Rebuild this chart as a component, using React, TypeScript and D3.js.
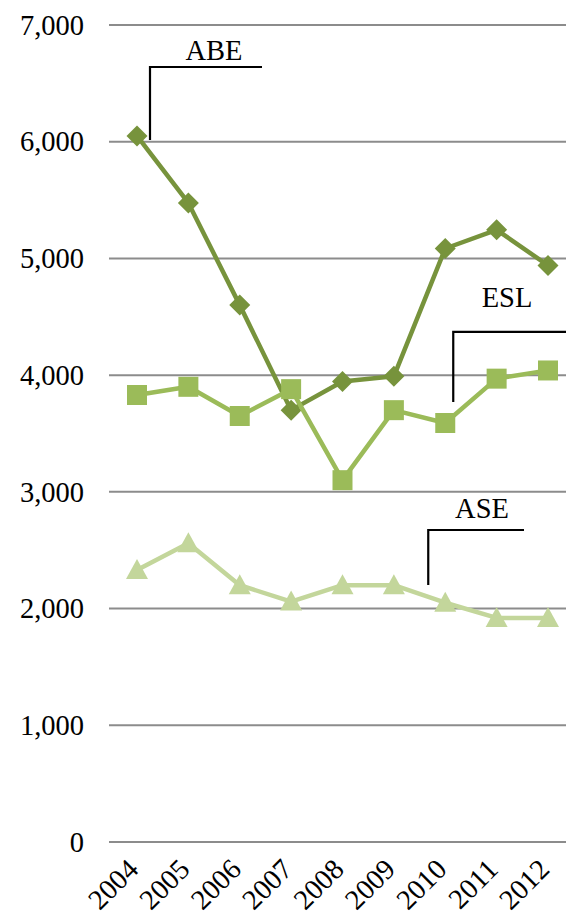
import React from "react";
import * as d3 from "d3";

const years = ["2004", "2005", "2006", "2007", "2008", "2009", "2010", "2011", "2012"];
const abe = [6050, 5475, 4600, 3700, 3945, 3990, 5085, 5245, 4940];
const esl = [3830, 3900, 3650, 3880, 3100, 3700, 3590, 3970, 4040];
const ase = [2330, 2560, 2200, 2060, 2200, 2200, 2050, 1920, 1920];
const yTicks = [0, 1000, 2000, 3000, 4000, 5000, 6000, 7000];

const W = 566;
const H = 922;
const FONT = "'Liberation Serif', 'Times New Roman', serif";
const FS = 28.5;

const diamond = "M0,-10.5L10.5,0L0,10.5L-10.5,0Z";
const square = "M-10,-10H10V10H-10Z";
const triangle = "M0,-11L11,9L-11,9Z";

export default function App() {
  const y = d3.scaleLinear().domain([0, 7000]).range([842, 25]);
  const x = d3.scalePoint<string>().domain(years).range([137, 548]);
  const fmt = d3.format(",");
  const line = d3
    .line<number>()
    .x((_, i) => x(years[i]) as number)
    .y((d) => y(d));

  const series = [
    { name: "ABE", data: abe, color: "#77933C", shape: diamond },
    { name: "ESL", data: esl, color: "#9BBB59", shape: square },
    { name: "ASE", data: ase, color: "#C3D69B", shape: triangle },
  ];

  const labels = [
    { text: "ABE", tx: 214, ty: y(6700), vx: x("2004")! + 13, vTop: y(6640), vBot: y(6015), hEnd: 262 },
    { text: "ESL", tx: 507, ty: y(4584), vx: x("2010")! + 8, vTop: y(4370), vBot: y(3770), hEnd: 570 },
    { text: "ASE", tx: 482, ty: y(2776), vx: x("2010")! - 17, vTop: y(2673), vBot: y(2202), hEnd: 524 },
  ];

  return (
    <svg
      width={W}
      height={H}
      style={{ position: "absolute", left: 0, top: 0, background: "#fff" }}
      fontFamily={FONT}
    >
      {yTicks.map((t) => (
        <g key={t}>
          <line x1={109} x2={W} y1={y(t)} y2={y(t)} stroke="#8c8c8c" strokeWidth={2} />
          <text x={84} y={y(t)} dy="0.34em" textAnchor="end" fontSize={FS} fill="#000">
            {fmt(t)}
          </text>
        </g>
      ))}
      {years.map((yr) => (
        <text
          key={yr}
          transform={`translate(${(x(yr) as number) + 3},${871}) rotate(-45)`}
          textAnchor="end"
          fontSize={FS}
          fill="#000"
        >
          {yr}
        </text>
      ))}
      {series.map((s) => (
        <g key={s.name}>
          <path d={line(s.data) || ""} fill="none" stroke={s.color} strokeWidth={4.5} strokeLinejoin="round" />
          {s.data.map((v, i) => (
            <path
              key={i}
              d={s.shape}
              transform={`translate(${x(years[i])},${y(v)})`}
              fill={s.color}
            />
          ))}
        </g>
      ))}
      {labels.map((l) => (
        <g key={l.text}>
          <text x={l.tx} y={l.ty} textAnchor="middle" fontSize={FS} fill="#000">
            {l.text}
          </text>
          <path
            d={`M${l.vx},${l.vBot}V${l.vTop}H${l.hEnd}`}
            fill="none"
            stroke="#000"
            strokeWidth={2.2}
          />
        </g>
      ))}
    </svg>
  );
}
